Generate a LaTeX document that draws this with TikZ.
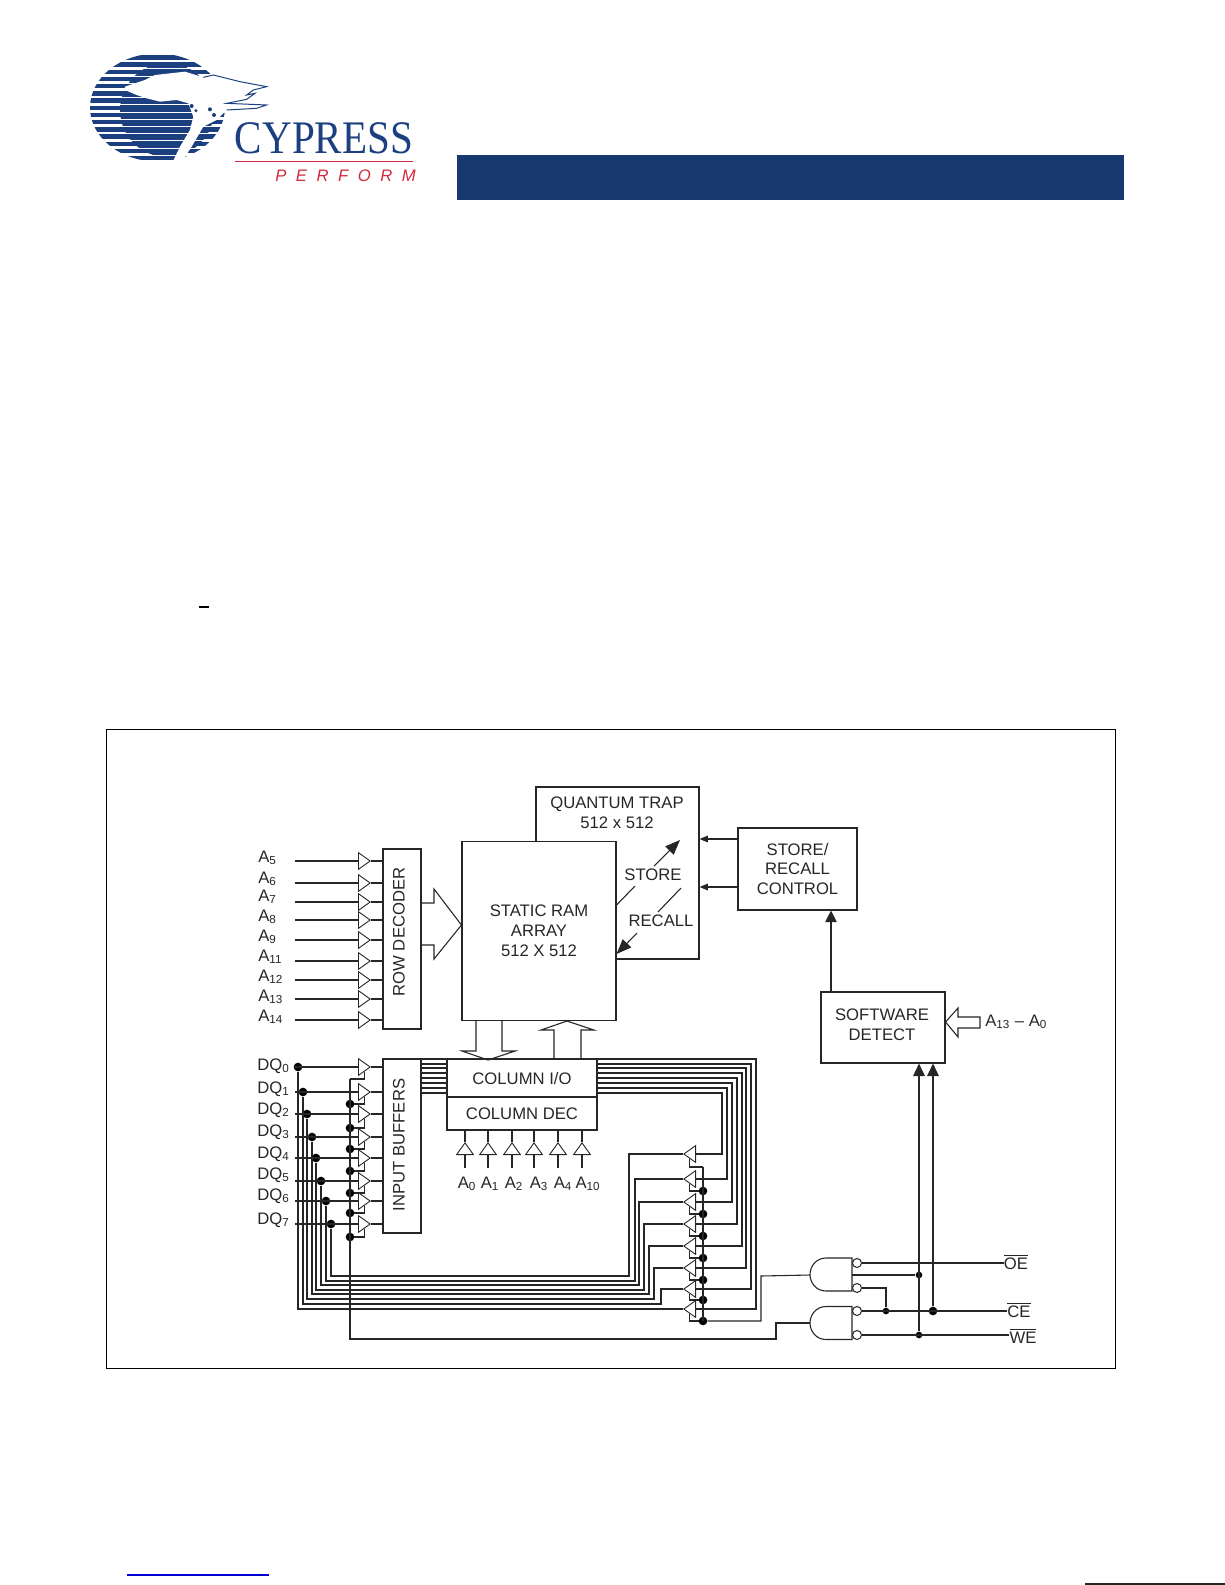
\documentclass[tikz,border=0pt]{standalone}
\usepackage{fontspec}
\setmainfont{Liberation Sans}
\newfontfamily\logofont{Liberation Serif}
\newfontfamily\performfont[LetterSpace=57]{Liberation Sans}
\usetikzlibrary{arrows.meta,positioning,shapes.geometric}
\definecolor{barblue}{HTML}{17396F}
\definecolor{logoblue}{HTML}{1C3F80}
\definecolor{logored}{HTML}{D4283C}
\definecolor{linkblue}{HTML}{0000D0}
\definecolor{ink}{HTML}{262626}
\tikzset{
  wire/.style={draw=ink,line width=0.65pt},
  box/.style={draw=ink,line width=0.65pt,rectangle,inner sep=0pt,align=center},
  lab/.style={inner sep=0pt,text=ink,font=\fontsize{10}{12}\selectfont,align=center},
  buf/.style={draw=ink,line width=0.55pt,isosceles triangle,isosceles triangle stretches,
    inner sep=0pt,minimum width=10pt,minimum height=7pt,anchor=lower side},
  dot/.style={circle,fill=black,inner sep=0pt,minimum size=5.2pt},
  smalldot/.style={circle,fill=black,inner sep=0pt,minimum size=4pt},
  bubble/.style={circle,draw=ink,line width=0.6pt,fill=white,inner sep=0pt,minimum size=5.4pt},
}
\begin{document}
\begin{tikzpicture}[x=0.6pt,y=-0.6pt]
    \useasboundingbox (0,0) rectangle (1225,1585);
    % Logo
    \begin{scope}
      \clip (157.5,107.5) ellipse [x radius=67.5,y radius=54];
      \foreach \k in {0,...,14} {
        \fill[logoblue] (85,{55.2+7.2*\k}) rectangle (230,{59.6+7.2*\k});
      }
      \fill[logoblue] (167,110) circle (47);
      \foreach \k in {0,...,14} {
        \draw[white,line width=0.45pt] (85,{61.6+7.2*\k}) -- (230,{61.6+7.2*\k});
      }
    \end{scope}
    \begin{scope}[shift={(70,40)},scale=0.3333]
      \fill[white] (165,140) -- (225,120) -- (255,105) -- (300,100) -- (345,95) -- (400,112) -- (430,105)
        -- (470,115) -- (510,125) -- (590,140) -- (550,150) -- (530,165) -- (555,160) -- (530,178)
        -- (470,190) -- (590,195) -- (560,205) -- (470,210) -- (440,240) -- (400,260) -- (365,320)
        -- (340,358) -- (310,362) -- (330,320) -- (360,270) -- (370,230) -- (355,190) -- (320,180)
        -- (270,185) -- (230,175) -- (200,165) -- (165,150) -- cycle;
      \draw[logoblue,line width=0.6pt] (400,112) -- (430,105) -- (470,115) -- (510,125) -- (590,140)
        -- (550,150) -- (530,165) -- (555,160) -- (530,178) -- (470,190) -- (590,195) -- (560,205) -- (470,210);
      \fill[logoblue] (365,198) circle (6) (378,212) circle (5) (420,208) circle (6) (432,225) circle (6);
    \end{scope}
    \node[inner sep=0pt,text=logoblue,font=\logofont\fontsize{28}{28}\selectfont,xscale=0.88] (cypress) at (324,138) {CYPRESS};
    \coordinate (redl) at (235,161);
    \coordinate (redr) at (413,161);
    \draw[logored,line width=0.6pt] (redl) -- (redr);
    \node[inner sep=0pt,anchor=west,text=logored,font=\performfont\itshape\fontsize{10}{12}\selectfont] (perform) at (275,176) {PERFORM};
    % Page marks
    \fill[barblue] (457,155) rectangle (1124,200);
    \fill[black] (199,606) rectangle (209,608);
    \draw[linkblue,line width=0.8pt] (127,1575) -- (269,1575);
    \draw[ink,line width=0.8pt] (1085,1584) -- (1225,1584);
    \node[draw=black,line width=0.6pt,inner sep=0pt,minimum width=605.4pt,minimum height=383.4pt] (frame) at (610.5,1048.5) {};
    % Nodes
    \node[box,minimum width=97.8pt,minimum height=103.2pt] (qtrap) at (617.5,873) {};
    \node[lab] (qtlab) at (617,813) {QUANTUM TRAP\\512 x 512};
    \node[box,fill=white,minimum width=92.4pt,minimum height=107.4pt,text=ink,font=\fontsize{10}{12}\selectfont] (sram) at (539,931) {STATIC RAM\\ARRAY\\512 X 512};
    \node[box,minimum width=71.4pt,minimum height=49.2pt,text=ink,font=\fontsize{10}{11.7}\selectfont] (ctrl) at (797.5,869) {STORE/\\RECALL\\CONTROL};
    \node[box,minimum width=74.4pt,minimum height=42.6pt] (swdet) at (883,1027.5) {};
    \node[lab] (swlab) at (882,1025) {SOFTWARE\\DETECT};
    \node[box,minimum width=22.8pt,minimum height=108pt] (rowdec) at (402,939) {};
    \node[lab,rotate=90] (rowlab) at (399,932) {ROW DECODER};
    \node[box,minimum width=22.8pt,minimum height=104.4pt] (inbuf) at (402,1146) {};
    \node[lab,rotate=90] (inlab) at (399,1145) {INPUT BUFFERS};
    \node[box,minimum width=90pt,minimum height=22.8pt] (colio) at (522,1078) {};
    \node[lab] (iolab) at (522,1079) {COLUMN I/O};
    \node[box,minimum width=90pt,minimum height=19.8pt,text=ink,font=\fontsize{10}{12}\selectfont] (coldec) at (522,1113.5) {COLUMN DEC};
    \node[lab] (stlab) at (653,875) {STORE};
    \node[lab] (rclab) at (661,921) {RECALL};
    \node[lab,anchor=west] (swaddr) at (985,1022) {A\textsubscript{13} -- A\textsubscript{0}};
    \coordinate (sts) at (sram.east |- 0,905);
    \coordinate (stm) at (635,886);
    \coordinate (stn) at (654,866);
    \coordinate (stt) at (680,840);
    \coordinate (rcs) at (681,888);
    \coordinate (rcm) at (658,912);
    \coordinate (rcn) at (637,933);
    \coordinate (rct) at (sram.east |- 0,954);
    % Arrows
    \draw[wire] (sts) -- (stm);
    \draw[wire,-{Triangle[length=9pt,width=7pt]}] (stn) -- (stt);
    \draw[wire] (rcs) -- (rcm);
    \draw[wire,-{Triangle[length=9pt,width=7pt]}] (rcn) -- (rct);
    \draw[wire,-{Triangle[length=5pt,width=4pt]}] (ctrl.west |- 0,839) -- (qtrap.east |- 0,839);
    \draw[wire,-{Triangle[length=5pt,width=4pt]}] (ctrl.west |- 0,887) -- (qtrap.east |- 0,887);
    \draw[wire,-{Triangle[length=7pt,width=7pt]}] (swdet.north -| 831,0) -- (ctrl.south -| 831,0);
    % Wide buses
    \draw[wire] (rowdec.east |- 0,903) -- (434,903) -- (434,889) -- (sram.west |- 0,925) -- (434,959) -- (434,945) -- (rowdec.east |- 0,945);
    \draw[wire] (sram.south -| 476,0) -- (476,1051) -- (462,1051) -- (488,1060) -- (515,1051) -- (502,1051) -- (sram.south -| 502,0);
    \draw[wire] (colio.north -| 554,0) -- (554,1030) -- (541,1030) -- (567,1021) -- (594,1030) -- (581,1030) -- (colio.north -| 581,0);
    \draw[wire] (swdet.east |- 0,1022) -- (958,1008) -- (958,1017) -- (980,1017) -- (980,1028) -- (958,1028) -- (958,1037) -- cycle;
    % Row address
    \foreach \y [count=\i] in {861,883,902,920,940,961,980,999,1020} {
      \node[buf] (ra\i) at (358,\y) {};
      \coordinate (rs\i) at (295,\y);
      \draw[wire] (rs\i) -- (ra\i.lower side);
      \draw[wire] (ra\i.apex) -- (ra\i.apex -| rowdec.west);
    }
    \foreach \n/\y in {5/858,6/879,7/897,8/917,9/937,11/957,12/977,13/997,14/1017} {
      \node[lab,anchor=west] (la\n) at (258,\y) {A\textsubscript{\n}};
    }
    % Column address
    \foreach \x/\n/\t [count=\i] in {465/0/467,488/1/490,512/2/514,534/3/539,558/4/563,582/10/588} {
      \node[buf,rotate=90] (ca\i) at (\x,1155) {};
      \coordinate (cs\i) at (\x,1168);
      \draw[wire] (coldec.south -| ca\i.apex) -- (ca\i.apex);
      \draw[wire] (ca\i.lower side) -- (cs\i);
      \node[lab] (lc\i) at (\t,1184) {A\textsubscript{\n}};
    }
    % Input buffers
    \foreach \y/\e/\x/\t [count=\i from 0] in {1067/1079/298/1066,1092/1104/303/1089,1114/1128/307/1110,1137/1149/312/1132,1158/1171/316/1154,1181/1193/321/1175,1201/1213/326/1196,1224/1237/331/1220} {
      \node[buf] (ib\i) at (358,\y) {};
      \coordinate (is\i) at (295,\y);
      \coordinate (ie\i) at (350,\e);
      \node[dot] (dq\i) at (\x,\y) {};
      \node[lab,anchor=west] (ld\i) at (257,\t) {DQ\textsubscript{\i}};
      \draw[wire] (is\i) -- (ib\i.lower side);
      \draw[wire] (ib\i.apex) -- (ib\i.apex -| inbuf.west);
      \draw[wire] (ib\i.right side) |- (ie\i);
    }
    \foreach \i in {1,...,7} {
      \node[dot] (id\i) at (ie\i) {};
    }
    \coordinate (enb) at (350,1339);
    \coordinate (enc) at (776,1323);
    % Data bus
    \foreach \t/\r/\e/\v/\j/\b/\d [count=\i from 0] in {
      1093/1154/1167/722/629/1276/7,1088/1179/1191/727/635/1281/6,1083/1202/1214/732/639/1285/5,1078/1224/1236/737/644/1290/4,
      1073/1246/1258/742/649/1294/3,1068/1268/1280/746/654/1299/2,1064/1289/1300/751/661/1304/1,1059/1309/1321/756/670/1309/0} {
      \node[buf,rotate=180] (ob\i) at (696,\r) {};
      \coordinate (cl\i) at (colio.west |- 0,\t);
      \coordinate (cr\i) at (colio.east |- 0,\t);
      \coordinate (cv\i) at (\v,\t);
      \coordinate (ol\i) at (\j,\b);
      \coordinate (oe\i) at (703,\e);
      \draw[wire] (cl\i -| inbuf.east) -- (cl\i);
      \draw[wire] (cr\i) -- (cv\i) |- (ob\i.lower side);
      \draw[wire] (ob\i.apex) -| (ol\i) -| (dq\d);
      \draw[wire] (ob\i.left side) |- (oe\i);
    }
    \foreach \i in {1,...,7} {
      \node[dot] (od\i) at (oe\i) {};
    }
    \draw[wire] (oe0) -- (oe7);
    % Gates
    \foreach \y in {1274.5,1323} {
      \draw[wire,shift={(0,\y)}] (852,-16.5) -- (826,-16.5) .. controls (816,-16.5) and (810,-8) .. (810,0)
        .. controls (810,8) and (816,16.5) .. (826,16.5) -- (852,16.5) -- cycle;
    }
    \coordinate (gt) at (810,1275);
    \coordinate (gb) at (810,1323);
    \coordinate (gm) at (852,1275);
    \node[bubble] (b1) at (857,1263) {};
    \node[bubble] (b2) at (857,1288) {};
    \node[bubble] (b3) at (857,1311) {};
    \node[bubble] (b4) at (857,1335) {};
    \node[lab] (oebar) at (1016,1262) {$\overline{\mbox{OE}}$};
    \node[lab] (cebar) at (1019,1310) {$\overline{\mbox{CE}}$};
    \node[lab] (webar) at (1023,1336) {$\overline{\mbox{WE}}$};
    \node[smalldot] (dm) at (919,1275) {};
    \node[smalldot] (dl) at (886,1311) {};
    \node[dot] (dc) at (933,1311) {};
    \node[smalldot] (dw) at (919,1335) {};
    \draw[wire] (b1.east) -- (b1.east -| oebar.west);
    \draw[wire] (b3.east) -- (b3.east -| cebar.west);
    \draw[wire] (b4.east) -- (b4.east -| webar.west);
    \draw[wire] (gm) -- (dm);
    \draw[wire] (b2.east) -| (dl);
    \draw[wire,-{Triangle[length=7.5pt,width=7pt]}] (dw) -- (dw |- swdet.south);
    \draw[wire,-{Triangle[length=7.5pt,width=7pt]}] (dc) -- (dc |- swdet.south);
    \draw[wire] (ie0) -- (enb) -| (enc) -- (gb);
    \draw[wire] (od7) -| (761,1276) -- (gt);
\end{tikzpicture}
\end{document}
